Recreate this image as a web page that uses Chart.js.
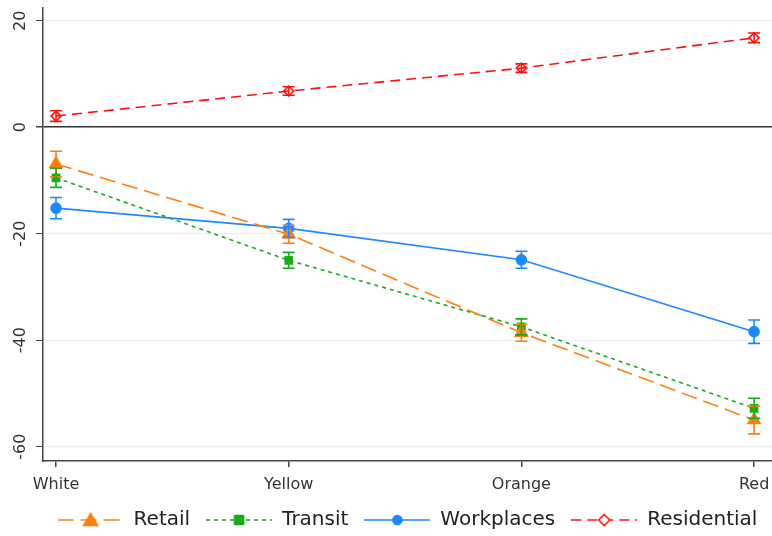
<!DOCTYPE html>
<html>
<head>
<meta charset="utf-8">
<script src="https://cdn.jsdelivr.net/npm/chart.js@4"></script>
<style>
  html, body { margin: 0; padding: 0; background: #fff; }
  #wrap { width: 772px; height: 536px; }
</style>
</head>
<body>
<div id="wrap"><canvas id="chart"></canvas></div>
<script>
// Chart data
const categories = ['White', 'Yellow', 'Orange', 'Red'];
const yTicks = [-60, -40, -20, 0, 20];

const retail = [-6.9, -20.1, -38.6, -55.0];
const retailErr = [2.4, 1.7, 1.6, 2.6];
const transit = [-9.5, -25.0, -37.5, -52.8];
const transitErr = [1.8, 1.5, 1.5, 1.9];
const workplaces = [-15.2, -19.0, -24.9, -38.4];
const workplacesErr = [2.0, 1.7, 1.6, 2.2];
const residential = [2.1, 6.8, 11.1, 16.8];
const residentialErr = [1.0, 0.8, 0.8, 0.9];

const FONT = '"DejaVu Sans", sans-serif';

// legend icon: short dashed line with the marker in the middle
function legendIcon(color, dash, style, filled) {
  const c = document.createElement('canvas');
  c.width = 66; c.height = 16;
  const g = c.getContext('2d');
  g.strokeStyle = color;
  g.lineWidth = 1.6;
  g.setLineDash(dash);
  g.beginPath(); g.moveTo(0, 8); g.lineTo(66, 8); g.stroke();
  g.setLineDash([]);
  g.fillStyle = filled ? color : '#fff';
  g.beginPath();
  if (style === 'triangle') {
    g.moveTo(33, 1.5); g.lineTo(40, 13.5); g.lineTo(26, 13.5); g.closePath();
  } else if (style === 'rect') {
    g.rect(28.5, 3.5, 9, 9);
  } else if (style === 'circle') {
    g.arc(33, 8, 4.5, 0, Math.PI * 2);
  } else {
    g.moveTo(33, 2.5); g.lineTo(38.5, 8); g.lineTo(33, 13.5); g.lineTo(27.5, 8); g.closePath();
  }
  g.fill();
  g.lineWidth = 1.6;
  g.stroke();
  return c;
}

function series(label, values, errors, color, dash, style, radius, filled) {
  return {
    label: label,
    data: values.map((v, i) => ({ x: i, y: v })),
    errors: errors,
    borderColor: color,
    backgroundColor: filled ? color : 'rgba(255,255,255,0)',
    borderWidth: 1.6,
    borderDash: dash,
    pointStyle: style,
    pointRadius: radius,
    pointBorderWidth: 1.6,
    pointBackgroundColor: filled ? color : 'rgba(255,255,255,0)',
    pointBorderColor: color,
    legendIcon: legendIcon(color, dash, style, filled),
    tension: 0
  };
}

// vertical error bars with caps, placed through the chart scales
const errorBars = {
  id: 'errorBars',
  afterDatasetsDraw(chart) {
    const { ctx, scales: { x, y } } = chart;
    ctx.save();
    chart.data.datasets.forEach(ds => {
      ctx.strokeStyle = ds.borderColor;
      ctx.lineWidth = 1.6;
      ctx.setLineDash([]);
      ds.data.forEach((p, i) => {
        const px = x.getPixelForValue(p.x);
        const top = y.getPixelForValue(p.y + ds.errors[i]);
        const bot = y.getPixelForValue(p.y - ds.errors[i]);
        ctx.beginPath();
        ctx.moveTo(px, top); ctx.lineTo(px, bot);
        ctx.moveTo(px - 6, top); ctx.lineTo(px + 6, top);
        ctx.moveTo(px - 6, bot); ctx.lineTo(px + 6, bot);
        ctx.stroke();
      });
    });
    ctx.restore();
  }
};

// rotated y tick labels
const yLabels = {
  id: 'yLabels',
  afterDraw(chart) {
    const { ctx, scales: { y } } = chart;
    ctx.save();
    ctx.fillStyle = '#333';
    ctx.font = '16px ' + FONT;
    ctx.textAlign = 'center';
    ctx.textBaseline = 'middle';
    yTicks.forEach(t => {
      ctx.save();
      ctx.translate(21, y.getPixelForValue(t));
      ctx.rotate(-Math.PI / 2);
      ctx.fillText(String(t), 0, 0);
      ctx.restore();
    });
    ctx.restore();
  }
};

// center the legend under the plot area instead of the whole canvas
const legendShift = {
  id: 'legendShift',
  afterLayout(chart) {
    const dx = (chart.chartArea.left + chart.chartArea.right) / 2 - chart.width / 2;
    chart.legend.left += dx;
    chart.legend.right += dx;
  }
};

const ctx = document.getElementById('chart').getContext('2d');
new Chart(ctx, {
  type: 'line',
  data: {
    datasets: [
      series('Retail', retail, retailErr, '#ff7f0e', [16, 7], 'triangle', 7, true),
      series('Transit', transit, transitErr, '#1aaa1a', [4, 4], 'rect', 5, true),
      series('Workplaces', workplaces, workplacesErr, '#1e88ff', [], 'circle', 5, true),
      series('Residential', residential, residentialErr, '#ff1010', [10, 6], 'rectRot', 5, false)
    ]
  },
  options: {
    responsive: true,
    maintainAspectRatio: false,
    animation: false,
    layout: { autoPadding: false, padding: { top: 8, right: 0, left: 0, bottom: -4 } },
    plugins: {
      tooltip: { enabled: false },
      legend: {
        position: 'bottom',
        labels: {
          usePointStyle: true,
          pointStyleWidth: 66,
          padding: 16,
          color: '#222',
          font: { family: FONT, size: 20 },
          generateLabels(chart) {
            return chart.data.datasets.map((ds, i) => ({
              text: ds.label,
              pointStyle: ds.legendIcon,
              fillStyle: ds.borderColor,
              strokeStyle: ds.borderColor,
              lineWidth: 0,
              datasetIndex: i,
              fontColor: '#222'
            }));
          }
        }
      }
    },
    scales: {
      x: {
        type: 'linear',
        min: -0.056,
        max: 3.077,
        afterBuildTicks(scale) { scale.ticks = categories.map((c, i) => ({ value: i })); },
        afterFit(scale) { scale.height = 33; scale.paddingRight = 0; scale.paddingLeft = 0; },
        ticks: {
          color: '#333',
          font: { family: FONT, size: 16 },
          padding: 8,
          callback: v => categories[v]
        },
        grid: { drawOnChartArea: false, drawTicks: true, tickLength: 6, tickColor: '#444', lineWidth: 1.5 },
        border: { color: '#444', width: 1.5 }
      },
      y: {
        min: -62.7,
        max: 22.4,
        afterBuildTicks(scale) { scale.ticks = yTicks.map(v => ({ value: v })); },
        afterFit(scale) { scale.width = 43; },
        ticks: { display: false },
        grid: {
          color: c => c.tick && c.tick.value === 0 ? '#333' : '#e9eff3',
          lineWidth: c => c.tick && c.tick.value === 0 ? 1.5 : 1,
          drawTicks: true,
          tickLength: 7,
          tickColor: '#444'
        },
        border: { color: '#444', width: 1.5 }
      }
    }
  },
  plugins: [errorBars, yLabels, legendShift]
});
</script>
</body>
</html>
